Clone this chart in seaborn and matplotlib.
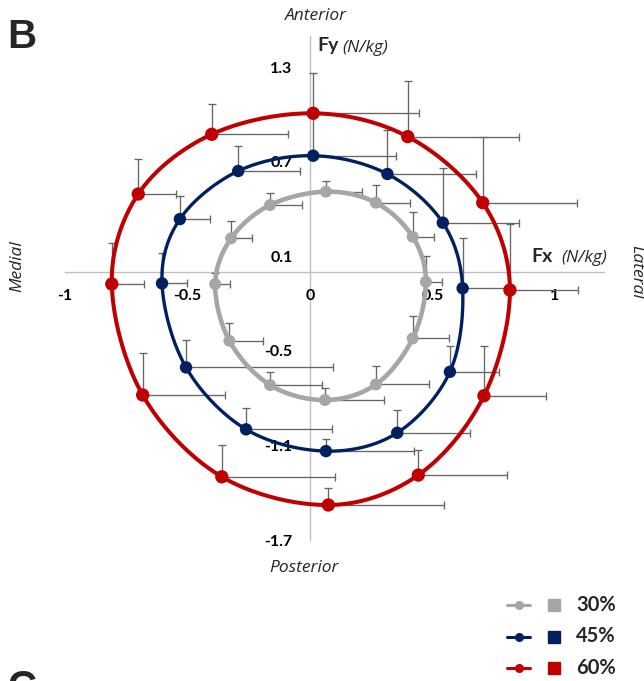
import numpy as np
import pandas as pd
import matplotlib
matplotlib.use("Agg")
import matplotlib.pyplot as plt
from matplotlib.lines import Line2D
import seaborn as sns

# ---- data: ground-reaction force vectors (N/kg) at 30%, 45%, 60% ----
speeds = ["30%", "45%", "60%"]

fx_30 = [0.065, 0.269, 0.419, 0.473, 0.419, 0.269, 0.061, -0.163, -0.329, -0.387, -0.322, -0.163]
fy_30 = [0.510, 0.440, 0.224, -0.062, -0.421, -0.713, -0.812, -0.717, -0.436, -0.076, 0.214, 0.425]
ex_30 = [0.148, 0.139, 0.088, 0.067, 0.148, 0.218, 0.241, 0.211, 0.139, 0.060, 0.084, 0.132]
ey_30 = [0.070, 0.110, 0.159, 0.165, 0.141, 0.116, 0.074, 0.081, 0.110, 0.070, 0.110, 0.078]

fx_45 = [0.013, 0.316, 0.542, 0.623, 0.571, 0.356, 0.065, -0.261, -0.506, -0.604, -0.531, -0.293]
fy_45 = [0.738, 0.622, 0.313, -0.103, -0.633, -1.020, -1.136, -0.998, -0.605, -0.072, 0.336, 0.641]
ex_45 = [0.338, 0.362, 0.311, 0.185, 0.201, 0.297, 0.359, 0.350, 0.600, 0.103, 0.122, 0.252]
ey_45 = [0.270, 0.279, 0.345, 0.321, 0.163, 0.144, 0.076, 0.133, 0.173, 0.194, 0.146, 0.159]

fx_60 = [0.013, 0.399, 0.705, 0.816, 0.710, 0.442, 0.075, -0.360, -0.683, -0.809, -0.701, -0.401]
fy_60 = [1.007, 0.859, 0.440, -0.114, -0.785, -1.288, -1.478, -1.299, -0.780, -0.076, 0.495, 0.874]
ex_60 = [0.433, 0.454, 0.386, 0.279, 0.252, 0.361, 0.472, 0.462, 0.336, 0.133, 0.154, 0.313]
ey_60 = [0.254, 0.353, 0.415, 0.417, 0.315, 0.159, 0.106, 0.201, 0.265, 0.258, 0.220, 0.192]

x_ticks = [-1, -0.5, 0, 0.5, 1]
x_tick_labels = ["-1", "-0.5", "0", "0.5", "1"]
y_ticks = [-1.7, -1.1, -0.5, 0.1, 0.7, 1.3]
y_tick_labels = ["-1.7", "-1.1", "-0.5", "0.1", "0.7", "1.3"]

colors = {"30%": "#A6A6A6", "45%": "#002060", "60%": "#C00000"}
line_w = {"30%": 3.3, "45%": 2.4, "60%": 2.9}
marker_s = {"30%": 74, "45%": 80, "60%": 92}

series = {
    "30%": (fx_30, fy_30, ex_30, ey_30),
    "45%": (fx_45, fy_45, ex_45, ey_45),
    "60%": (fx_60, fy_60, ex_60, ey_60),
}

rows = []
for s in speeds:
    fx, fy, ex, ey = series[s]
    for a, b, c, d in zip(fx, fy, ex, ey):
        rows.append({"speed": s, "Fx": a, "Fy": b, "ex": c, "ey": d})
df = pd.DataFrame(rows)


def closed_spline(x, y, n=40):
    """Smooth closed curve through the points (periodic Catmull-Rom)."""
    P = np.column_stack([x, y])
    N = len(P)
    t = np.linspace(0, 1, n, endpoint=False)[:, None]
    segs = []
    for i in range(N):
        p0, p1, p2, p3 = P[(i - 1) % N], P[i], P[(i + 1) % N], P[(i + 2) % N]
        segs.append(0.5 * (2 * p1 + (p2 - p0) * t
                           + (2 * p0 - 5 * p1 + 4 * p2 - p3) * t ** 2
                           + (-p0 + 3 * p1 - 3 * p2 + p3) * t ** 3))
    segs.append(P[:1])
    return np.vstack(segs)


sns.set_theme(style="white")
plt.rcParams["font.family"] = ["Lato", "DejaVu Sans"]
ITALIC = ["Open Sans", "DejaVu Sans"]

W, H = 644, 681
fig = plt.figure(figsize=(W / 100, H / 100), dpi=100)
ax = fig.add_axes([65 / W, 1 - 540 / H, 539 / W, 504.4 / H])
ax.set_xlim(-1, 1.2)
ax.set_ylim(-1.7, 1.5)
ax.set_axisbelow(True)

# axes crossing at the origin
for side in ("top", "right"):
    ax.spines[side].set_visible(False)
ax.spines["left"].set_position(("data", 0))
ax.spines["bottom"].set_position(("data", 0))
for side in ("left", "bottom"):
    ax.spines[side].set_color("#BFBFBF")
    ax.spines[side].set_linewidth(1.0)
    ax.spines[side].set_zorder(0)

ax.set_xticks(x_ticks)
ax.set_xticklabels(x_tick_labels)
ax.set_yticks(y_ticks)
ax.set_yticklabels(y_tick_labels)
ax.tick_params(axis="x", direction="in", length=3.5, width=1, color="#BFBFBF", pad=12.5,
               labelsize=11.5, labelcolor="black")
ax.tick_params(axis="y", direction="out", length=2.5, width=1, color="#BFBFBF", pad=10,
               labelsize=11.5, labelcolor="black")
for lab in ax.get_xticklabels() + ax.get_yticklabels():
    lab.set_fontweight("bold")

# error bars (positive side only), then curves, then markers
for s in speeds:
    d = df[df["speed"] == s]
    zeros = np.zeros(len(d))
    ax.errorbar(d["Fx"], d["Fy"], xerr=[zeros, d["ex"]], yerr=[zeros, d["ey"]],
                fmt="none", ecolor="#666666", elinewidth=0.95, capsize=2.6,
                capthick=0.95, zorder=1)

for s in speeds:
    d = df[df["speed"] == s]
    curve = closed_spline(d["Fx"].to_numpy(), d["Fy"].to_numpy())
    ax.plot(curve[:, 0], curve[:, 1], color=colors[s], lw=line_w[s],
            solid_capstyle="round", solid_joinstyle="round", zorder=2)
    sns.scatterplot(data=d, x="Fx", y="Fy", color=colors[s], s=marker_s[s],
                    edgecolor="none", legend=False, ax=ax, zorder=3)

ax.set_xlabel("")
ax.set_ylabel("")


def px(x, y):
    return x / W, 1 - y / H


# panel letters
fig.text(*px(7, 48), "B", fontsize=29, fontweight="bold", family="Liberation Sans",
         ha="left", va="baseline")
fig.text(*px(7, 669), "C", fontsize=29, fontweight="bold", family="Liberation Sans",
         ha="left", va="top")

# axis titles
fig.text(*px(317, 51), "Fy", fontsize=14, fontweight="bold", ha="left", va="baseline")
fig.text(*px(342, 52), "(N/kg)", fontsize=12.5, fontstyle="italic", family=ITALIC,
         ha="left", va="baseline")
fig.text(*px(531, 262), "Fx", fontsize=14, fontweight="bold", ha="left", va="baseline")
fig.text(*px(561, 262), "(N/kg)", fontsize=12.5, fontstyle="italic", family=ITALIC,
         ha="left", va="baseline")

# anatomical directions
fig.text(*px(315.5, 15.5), "Anterior", fontsize=12.5, fontstyle="italic", family=ITALIC,
         ha="center", va="center")
fig.text(*px(304, 568), "Posterior", fontsize=12.5, fontstyle="italic", family=ITALIC,
         ha="center", va="center")
fig.text(*px(17, 266), "Medial", fontsize=12.5, fontstyle="italic", family=ITALIC,
         rotation=90, ha="center", va="center")
fig.text(*px(636, 272), "Lateral", fontsize=12.5, fontstyle="italic", family=ITALIC,
         rotation=270, ha="center", va="center")

# legend: line-with-marker, square swatch, label
legend_rows = [605, 636.5, 668]
for s, yy in zip(speeds, legend_rows):
    x0, y0 = px(507, yy)
    x1, _ = px(530, yy)
    fig.add_artist(Line2D([x0, x1], [y0, y0], transform=fig.transFigure,
                          color=colors[s], lw=2.2, solid_capstyle="round"))
    fig.add_artist(Line2D([px(518.5, yy)[0]], [y0], transform=fig.transFigure,
                          color=colors[s], marker="o", markersize=5.5, lw=0))
    fig.add_artist(Line2D([px(554, yy)[0]], [y0], transform=fig.transFigure,
                          color=colors[s], marker="s", markersize=8.6, lw=0))
    fig.text(*px(576, yy), s, fontsize=14.5, fontweight="bold", ha="left", va="center")

fig.savefig("out.png", dpi=100)
